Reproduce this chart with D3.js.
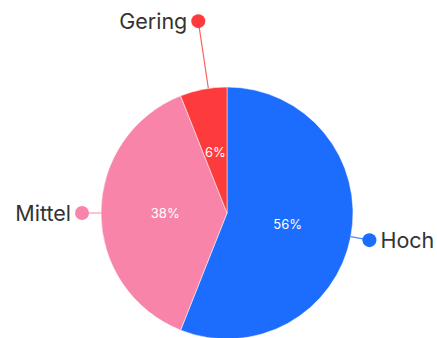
<!DOCTYPE html>
<html><head><meta charset="utf-8">
<script src="https://cdn.jsdelivr.net/npm/d3@7"></script>
<style>html,body{margin:0;padding:0;background:#fff;}svg{display:block;font-family:Inter,"Noto Sans",sans-serif;}</style>
</head><body>
<svg id="c" width="437" height="338"></svg>
<script>
const categories = ["Hoch", "Mittel", "Gering"];
const values = [56, 38, 6];
const colors = ["#1c6cfe", "#f984a9", "#fe3b3c"];

const W = 437, H = 338, cx = 227, cy = 213, R = 126;
const svg = d3.select("#c");
const g = svg.append("g").attr("transform", `translate(${cx},${cy})`);

const pie = d3.pie().sort(null).value(d => d.v);
const data = categories.map((c, i) => ({c, v: values[i], col: colors[i]}));
const arcs = pie(data);
const arc = d3.arc().innerRadius(0).outerRadius(R);

g.selectAll("path.slice").data(arcs).enter().append("path")
  .attr("d", arc).attr("fill", d => d.data.col)
  .attr("stroke", "#fff").attr("stroke-width", 0.5);

g.selectAll("text.pct").data(arcs).enter().append("text")
  .attr("transform", d => {
    const a = (d.startAngle + d.endAngle) / 2, r = R * 0.49;
    return `translate(${r * Math.sin(a)},${-r * Math.cos(a)})`;
  })
  .attr("text-anchor", "middle").attr("dy", "0.35em")
  .attr("fill", "#fff").attr("font-size", 13).attr("font-weight", 400)
  .text(d => d.data.v + "%");

// outer labels
arcs.forEach((d, i) => {
  let a = (d.startAngle + d.endAngle) / 2;
  const small = (d.endAngle - d.startAngle) < 0.5;
  const lr = small ? R + 68 : R + 19;
  if (small) a += 0.04;
  const x = lr * Math.sin(a), y = -lr * Math.cos(a);
  const ex = R * Math.sin(a), ey = -R * Math.cos(a);
  g.append("line").attr("x1", x).attr("y1", y).attr("x2", ex).attr("y2", ey)
    .attr("stroke", d.data.col).attr("stroke-width", 1.2).attr("opacity", 0.8);
  g.append("circle").attr("cx", x).attr("cy", y).attr("r", 7).attr("fill", d.data.col);
  const right = Math.sin(a) > 0;
  g.append("text").attr("x", right ? x + 11 : x - 11).attr("y", y)
    .attr("dy", "0.35em").attr("text-anchor", right ? "start" : "end")
    .attr("font-size", 21.5).attr("fill", "#333")
    .text(d.data.c);
});
</script>
</body></html>
